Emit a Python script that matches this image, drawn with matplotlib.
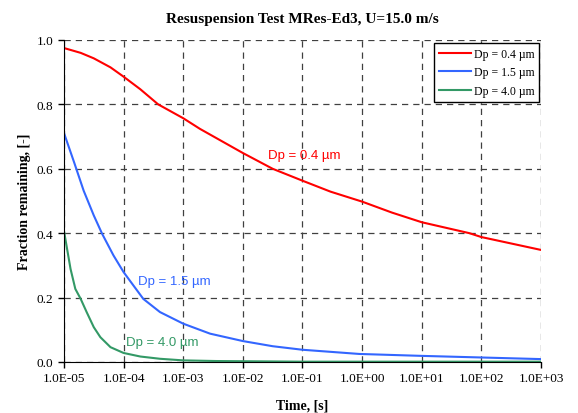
import numpy as np
import matplotlib.pyplot as plt
from matplotlib.ticker import FuncFormatter, FixedLocator

# data (time in s, fraction remaining)
t_red = [1e-5, 10**-4.72, 10**-4.5, 10**-4.22, 1e-4, 10**-3.72, 10**-3.42, 1e-3, 10**-2.72,
         1e-2, 10**-1.5, 1e-1, 10**-0.53, 1e0, 10**0.5, 1e1, 10**1.8, 1e2, 1e3]
f_red = [0.975, 0.960, 0.943, 0.915, 0.886, 0.847, 0.800, 0.757, 0.724,
         0.649, 0.600, 0.563, 0.529, 0.498, 0.464, 0.434, 0.400, 0.388, 0.348]

t_blue = [1e-5, 10**-4.83, 10**-4.67, 10**-4.5, 10**-4.36, 10**-4.17, 1e-4, 10**-3.67,
          10**-3.39, 1e-3, 10**-2.55, 1e-2, 10**-1.5, 1e-1, 10**-0.05, 1e1, 1e2, 1e3]
f_blue = [0.711, 0.620, 0.532, 0.455, 0.398, 0.331, 0.279, 0.196,
          0.155, 0.119, 0.088, 0.065, 0.049, 0.038, 0.025, 0.019, 0.014, 0.009]

t_green = [1e-5, 10**-4.89, 10**-4.81, 10**-4.72, 10**-4.62, 10**-4.5, 10**-4.39, 10**-4.22,
           1e-4, 10**-3.72, 10**-3.39, 1e-3, 10**-2.45, 1e-1, 1e1, 1e3]
f_green = [0.407, 0.289, 0.227, 0.196, 0.155, 0.108, 0.077, 0.046,
           0.028, 0.017, 0.010, 0.005, 0.003, 0.001, 0.001, 0.001]

labels = ['Dp = 0.4 µm', 'Dp = 1.5 µm', 'Dp = 4.0 µm']
colors = ['#ff0000', '#3366ff', '#339966']

x_ticks = [1e-5, 1e-4, 1e-3, 1e-2, 1e-1, 1e0, 1e1, 1e2, 1e3]
y_ticks = [0.0, 0.2, 0.4, 0.6, 0.8, 1.0]

serif = ['Liberation Serif', 'DejaVu Serif']
sans = ['Liberation Sans', 'DejaVu Sans']

fig = plt.figure(figsize=(5.78, 4.14), dpi=100)
ax1 = fig.add_axes([0.1107, 0.1232, 0.8253, 0.7778])

ax1.plot(t_red, f_red, color=colors[0], lw=1.5, label=labels[0])
ax1.plot(t_blue, f_blue, color=colors[1], lw=1.5, label=labels[1])
ax1.plot(t_green, f_green, color=colors[2], lw=1.5, label=labels[2])

ax1.set_xscale('log')
ax1.set_xlim(1e-5, 1e3)
ax1.set_ylim(0, 1.0)
ax1.xaxis.set_major_locator(FixedLocator(x_ticks))
ax1.xaxis.set_minor_locator(FixedLocator([]))
ax1.yaxis.set_major_locator(FixedLocator(y_ticks))


def sci_fmt(v, pos):
    e = int(round(np.log10(v)))
    return '1.0E%s%02d' % ('-' if e < 0 else '+', abs(e))


ax1.xaxis.set_major_formatter(FuncFormatter(sci_fmt))
ax1.yaxis.set_major_formatter(FuncFormatter(lambda v, p: '%.1f' % v))

for s in ['top', 'right']:
    ax1.spines[s].set_visible(False)
ax1.tick_params(direction='out', length=4, width=1, labelsize=9.5)
for lab in ax1.get_xticklabels() + ax1.get_yticklabels():
    lab.set_family(serif)

ax1.grid(True, linestyle=(0, (5, 4)), color='#404040', lw=0.9)
ax1.set_axisbelow(True)

ax1.set_title('Resuspension Test MRes-Ed3, U=15.0 m/s', family=serif,
              fontweight='bold', fontsize=11, pad=13)
ax1.set_xlabel('Time, [s]', family=serif, fontweight='bold', fontsize=10, labelpad=10)
ax1.set_ylabel('Fraction remaining, [-]', family=serif, fontweight='bold', fontsize=10, labelpad=4)

ax1.text(10**-1.58, 0.643, labels[0], color=colors[0], family=sans, fontsize=9.5, va='center')
ax1.text(10**-3.76, 0.25, labels[1], color=colors[1], family=sans, fontsize=9.5, va='center')
ax1.text(10**-3.96, 0.061, labels[2], color=colors[2], family=sans, fontsize=9.5, va='center')

leg = ax1.legend(loc='upper right', bbox_to_anchor=(0.9964, 0.99), prop={'family': serif, 'size': 8.5},
                 fancybox=False, framealpha=1, edgecolor='black', handlelength=2.7,
                 borderaxespad=0.0, borderpad=0.4, labelspacing=0.55, handletextpad=0.25)
leg.get_frame().set_linewidth(1.0)

plt.savefig('out.png', dpi=100)
